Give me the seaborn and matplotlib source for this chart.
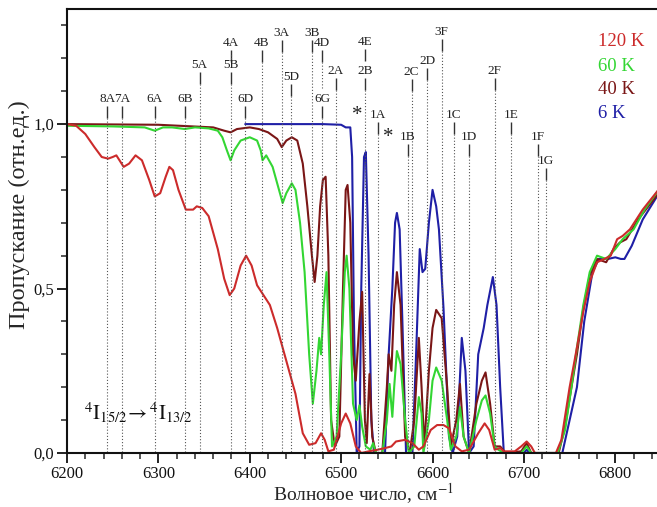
import numpy as np
import pandas as pd
import matplotlib
matplotlib.use("Agg")
import matplotlib.pyplot as plt
import seaborn as sns

# ---- spectra: wavenumber (cm^-1) and transmission ----
wn_120 = [6200, 6210, 6220, 6230, 6238, 6245, 6250, 6254, 6262, 6268, 6275, 6282, 6290, 6296,
          6302, 6308, 6312, 6316, 6322, 6330, 6338, 6342, 6348, 6355, 6365, 6372, 6378, 6383,
          6390, 6396, 6402, 6408, 6415, 6422, 6430, 6440, 6450, 6458, 6465, 6472, 6478, 6482,
          6486, 6492, 6500, 6505, 6510, 6516, 6522, 6530, 6540, 6548, 6555, 6560, 6570, 6578,
          6585, 6590, 6598, 6605, 6612, 6618, 6625, 6632, 6640, 6650, 6657, 6662, 6668, 6674,
          6678, 6690, 6697, 6703, 6708, 6712, 6735, 6741, 6750, 6756, 6765, 6772, 6780, 6788,
          6795, 6802, 6808, 6816, 6830, 6850]
tr_120 = [1.0, 0.995, 0.97, 0.93, 0.90, 0.895, 0.90, 0.905, 0.87, 0.88, 0.905, 0.89, 0.83, 0.78,
          0.79, 0.84, 0.87, 0.86, 0.80, 0.74, 0.74, 0.75, 0.745, 0.72, 0.62, 0.53, 0.48, 0.50,
          0.57, 0.60, 0.57, 0.51, 0.48, 0.45, 0.38, 0.28, 0.18, 0.06, 0.025, 0.03, 0.06, 0.04,
          0.005, 0.01, 0.09, 0.12, 0.09, 0.02, 0.0, 0.005, 0.01, 0.015, 0.02, 0.035, 0.04, 0.03,
          0.01, 0.02, 0.07, 0.085, 0.085, 0.075, 0.02, 0.005, 0.01, 0.06, 0.09, 0.07, 0.01, 0.015,
          0.005, 0.005, 0.02, 0.035, 0.02, 0.0, 0.0, 0.04, 0.20, 0.29, 0.43, 0.52, 0.58, 0.59,
          0.60, 0.65, 0.66, 0.68, 0.74, 0.81]

wn_60 = [6200, 6250, 6285, 6296, 6305, 6315, 6329, 6340, 6355, 6365, 6370, 6375, 6379, 6383,
         6390, 6400, 6408, 6412, 6414, 6418, 6425, 6432, 6436, 6440, 6446, 6450, 6455, 6460,
         6465, 6469, 6473, 6476, 6478, 6481, 6484, 6487, 6490, 6495, 6500, 6504, 6506, 6509,
         6513, 6517, 6520, 6523, 6527, 6532, 6535, 6538, 6545, 6550, 6553, 6556, 6558, 6561,
         6565, 6570, 6574, 6580, 6585, 6588, 6590, 6596, 6600, 6604, 6610, 6616, 6620, 6626,
         6630, 6634, 6640, 6648, 6654, 6658, 6663, 6668, 6672, 6678, 6697, 6703, 6708, 6737,
         6745, 6752, 6758, 6765, 6772, 6780, 6790, 6800, 6808, 6820, 6832, 6850]
tr_60 = [0.995, 0.993, 0.99, 0.98, 0.99, 0.99, 0.985, 0.99, 0.987, 0.98, 0.96, 0.92, 0.89, 0.92,
         0.95, 0.96, 0.95, 0.92, 0.89, 0.905, 0.87, 0.80, 0.76, 0.79, 0.82, 0.80, 0.70, 0.55,
         0.30, 0.15, 0.25, 0.35, 0.30, 0.45, 0.55, 0.30, 0.02, 0.05, 0.30, 0.55, 0.60, 0.50,
         0.15, 0.10, 0.145, 0.08, 0.02, 0.01, 0.03, 0.0, 0.0, 0.10, 0.21, 0.11, 0.20, 0.31,
         0.27, 0.10, 0.0, 0.02, 0.17, 0.12, 0.0, 0.10, 0.22, 0.26, 0.22, 0.10, 0.01, 0.05,
         0.14, 0.05, 0.0, 0.10, 0.16, 0.175, 0.12, 0.02, 0.01, 0.0, 0.0, 0.02, 0.0, 0.0,
         0.07, 0.20, 0.32, 0.45, 0.55, 0.60, 0.59, 0.62, 0.65, 0.68, 0.74, 0.81]

wn_40 = [6200, 6300, 6360, 6372, 6379, 6386, 6400, 6410, 6420, 6430, 6435, 6440, 6446, 6452,
         6458, 6463, 6468, 6471, 6474, 6477, 6480, 6483, 6486, 6489, 6493, 6498, 6502, 6505,
         6507, 6510, 6513, 6516, 6520, 6523, 6526, 6528, 6531, 6534, 6538, 6545, 6550, 6552,
         6555, 6558, 6561, 6565, 6570, 6575, 6580, 6585, 6588, 6591, 6596, 6600, 6604, 6610,
         6616, 6620, 6626, 6630, 6634, 6640, 6648, 6654, 6658, 6663, 6668, 6674, 6680, 6697,
         6703, 6708, 6738, 6745, 6752, 6758, 6765, 6772, 6780, 6790, 6798, 6805, 6812, 6825, 6850]
tr_40 = [1.0, 0.998, 0.99, 0.98, 0.975, 0.985, 0.99, 0.985, 0.975, 0.955, 0.93, 0.95, 0.96, 0.95,
         0.88, 0.75, 0.60, 0.52, 0.60, 0.75, 0.83, 0.84, 0.60, 0.10, 0.02, 0.05, 0.50, 0.80,
         0.815, 0.70, 0.30, 0.22, 0.40, 0.49, 0.10, 0.03, 0.24, 0.05, 0.0, 0.0, 0.20, 0.30,
         0.25, 0.45, 0.55, 0.45, 0.05, 0.0, 0.10, 0.35, 0.20, 0.02, 0.25, 0.38, 0.435, 0.41,
         0.20, 0.02, 0.10, 0.21, 0.05, 0.0, 0.15, 0.22, 0.245, 0.15, 0.02, 0.02, 0.0, 0.005,
         0.03, 0.0, 0.0, 0.08, 0.20, 0.30, 0.44, 0.54, 0.59, 0.58, 0.62, 0.64, 0.65, 0.71, 0.80]

wn_6 = [6395, 6480, 6500, 6505, 6510, 6512, 6514, 6517, 6520, 6522, 6525, 6527, 6530, 6533,
        6536, 6548, 6552, 6556, 6559, 6561, 6564, 6567, 6571, 6578, 6582, 6586, 6589, 6592,
        6596, 6600, 6604, 6607, 6612, 6618, 6622, 6627, 6632, 6636, 6640, 6645, 6650, 6656,
        6660, 6666, 6670, 6674, 6678, 6700, 6703, 6706, 6742, 6750, 6758, 6766, 6775, 6782,
        6792, 6800, 6806, 6810, 6818, 6830, 6850]
tr_6 = [1.0, 1.0, 0.998, 0.99, 0.99, 0.90, 0.40, 0.0, 0.02, 0.50, 0.90, 0.915, 0.60, 0.10,
        0.0, 0.0, 0.30, 0.50, 0.70, 0.73, 0.68, 0.40, 0.0, 0.0, 0.30, 0.62, 0.55, 0.56,
        0.70, 0.80, 0.75, 0.68, 0.44, 0.05, 0.0, 0.05, 0.35, 0.25, 0.0, 0.02, 0.30, 0.38,
        0.45, 0.535, 0.45, 0.20, 0.0, 0.0, 0.01, 0.0, 0.0, 0.10, 0.20, 0.40, 0.55, 0.59,
        0.59, 0.595, 0.59, 0.59, 0.63, 0.71, 0.80]

series_names = ["6 K", "40 K", "60 K", "120 K"]
series_colors = ["#1f1fa6", "#7a1616", "#33d633", "#cc2b2b"]

# ---- Stark-level assignments ----
band_labels = ["8A", "7A", "6A", "6B", "5A", "4A", "5B", "6D", "4B", "3A", "5D", "3B", "4D", "6G",
               "2A", "4E", "2B", "1A", "1B", "2C", "2D", "3F", "1C", "1D", "2F", "1E", "1F", "1G"]
band_pos = [6244, 6260, 6296, 6329, 6345, 6379, 6379, 6395, 6413, 6435, 6445, 6468, 6479, 6479,
            6494, 6526, 6526, 6540, 6573, 6577, 6594, 6610, 6623, 6640, 6668, 6686, 6715, 6724]
band_height = [1.076, 1.076, 1.076, 1.076, 1.179, 1.246, 1.179, 1.076, 1.246, 1.277, 1.143, 1.277,
               1.246, 1.076, 1.161, 1.249, 1.161, 1.027, 0.960, 1.158, 1.191, 1.280, 1.027, 0.960,
               1.161, 1.027, 0.960, 0.888]
star_pos = [6518, 6551]
star_height = [1.027, 0.960]

sns.set_theme(style="ticks")
plt.rcParams["font.family"] = ["Liberation Serif", "DejaVu Serif"]
plt.rcParams["mathtext.fontset"] = "stix"

fig = plt.figure(figsize=(6.57, 5.07), dpi=100)
ax = fig.add_axes([67 / 657, 54 / 507, 594 / 657, 444 / 507])

frames = []
for name, wn, tr in zip(series_names,
                        [wn_6, wn_40, wn_60, wn_120],
                        [tr_6, tr_40, tr_60, tr_120]):
    frames.append(pd.DataFrame({"wn": wn, "tr": tr, "T": name}))
df = pd.concat(frames, ignore_index=True)

sns.lineplot(data=df, x="wn", y="tr", hue="T", hue_order=series_names,
             palette=series_colors, estimator=None, sort=False, legend=False,
             linewidth=1.5, ax=ax)

# band markers: label, short solid tick, dotted drop line
tick_top, tick_bot = 0.021, 0.058
for lab, x, h in zip(band_labels, band_pos, band_height):
    ax.text(x, h, lab, ha="center", va="center", fontsize=9.5, color="#222222")
    ax.plot([x, x], [h - tick_top, h - tick_bot], color="#333333", lw=1.0, solid_capstyle="butt")
    lower = [hh for xx, hh in zip(band_pos, band_height) if xx == x and hh < h]
    end = max(lower) + 0.03 if lower else 0.0
    ax.plot([x, x], [h - tick_bot, end], color="#555555", lw=0.8, ls=(0, (1, 1.8)))
for x, h in zip(star_pos, star_height):
    ax.text(x, h, "*", ha="center", va="center", fontsize=15, color="#222222")

# temperature key
key_y = [1.25, 1.175, 1.105, 1.032]
for name, col, y in zip(["120 K", "60 K", "40 K", "6 K"],
                        ["#cc2b2b", "#33d633", "#7a1616", "#1f1fa6"], key_y):
    ax.text(6781, y, name, color=col, fontsize=13.5, ha="left", va="center")

ax.text(6219, 0.12, r"$^{4}\mathrm{I}_{15/2}\!\rightarrow{}^{4}\mathrm{I}_{13/2}$",
        fontsize=15, ha="left", va="center", color="#111111")

ax.set_xlim(6200, 6850)
ax.set_ylim(0, 1.35)
ax.set_xticks(np.arange(6200, 6801, 100))
ax.set_xticks(np.arange(6200, 6851, 20), minor=True)
ax.set_yticks([0, 0.5, 1.0])
ax.set_yticks(np.arange(0, 1.31, 0.1), minor=True)
ax.set_yticklabels(["0,0", "0,5", "1,0"])
ax.tick_params(axis="both", which="major", direction="out", length=7, width=1.3,
               labelsize=12, colors="#111111", pad=2)
ax.tick_params(axis="both", which="minor", direction="out", length=4, width=1.1)
ax.set_xlabel("Волновое число, см$^{-1}$", fontsize=14, labelpad=0)
ax.set_ylabel("Пропускание (отн.ед.)", fontsize=17.5)
ax.yaxis.set_label_coords(-0.062, 0.536)
for s in ["left", "bottom", "top"]:
    ax.spines[s].set_linewidth(1.5)
    ax.spines[s].set_color("#111111")
ax.spines["right"].set_visible(False)

fig.savefig("out.png", dpi=100)
